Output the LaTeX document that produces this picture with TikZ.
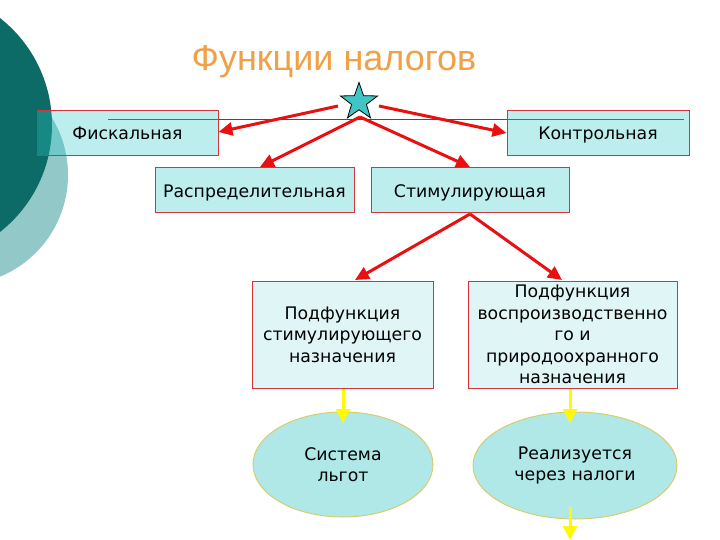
\documentclass[tikz,border=0pt]{standalone}
\usepackage{fontspec}
\setmainfont{DejaVu Sans}
\newfontfamily\titlefont{Liberation Sans}
\usetikzlibrary{arrows.meta,shapes.geometric}
\definecolor{darkteal}{RGB}{12,107,102}
\definecolor{lightteal}{RGB}{147,200,200}
\definecolor{boxfill}{RGB}{47,201,201}
\definecolor{subfill}{RGB}{224,246,246}
\definecolor{ellfill}{RGB}{176,232,232}
\definecolor{ellborder}{RGB}{214,206,110}
\definecolor{boxborder}{RGB}{214,52,60}
\definecolor{arrred}{RGB}{232,16,16}
\definecolor{arryel}{RGB}{255,250,0}
\definecolor{titlecol}{RGB}{240,160,70}
\definecolor{startcol}{RGB}{64,196,196}
\begin{document}
\begin{tikzpicture}[x=1pt,y=-1pt,
  fbox/.style={draw=boxborder,line width=1pt,fill=boxfill,fill opacity=0.32,text opacity=1,
     inner sep=0pt,font=\fontsize{17.3}{21}\selectfont,text=black,text height=16pt,text depth=3pt},
  subbox/.style={draw=boxborder,line width=1pt,fill=subfill,inner sep=0pt,align=center,
     font=\fontsize{17.3}{21.5}\selectfont},
  ell/.style={ellipse,draw=ellborder,line width=1pt,fill=ellfill,inner sep=0pt,align=center,
     font=\fontsize{17.3}{21.5}\selectfont},
  redarr/.style={draw=arrred,line width=3pt,-{Triangle[length=14pt,width=13pt]}},
  yelarr/.style={draw=arryel,line width=3pt,-{Triangle[length=14pt,width=14pt]}}]
\useasboundingbox (0,0) rectangle (720,540);
\clip (0,0) rectangle (720,540);
% background circles
\fill[lightteal] (-42,175) circle (110pt);
\fill[darkteal] (-84,125) circle (136pt);
% title
\node[font=\titlefont\fontsize{36}{40}\selectfont,text=titlecol] (title) at (334,62) {Функции налогов};
% horizontal line
\coordinate (hl1) at (108,120);
\coordinate (hl2) at (684,120);
\draw[gray!60!black,line width=1pt] (hl1) -- (hl2);
% boxes
\node[fbox,minimum width=181pt,minimum height=45pt] (fisk) at (127.5,133.5) {Фискальная};
\node[fbox,minimum width=182pt,minimum height=45pt] (kontr) at (598,133.5) {Контрольная};
\node[fbox,minimum width=199pt,minimum height=45pt] (raspr) at (254.5,190.5) {Распределительная};
\node[fbox,minimum width=198pt,minimum height=45pt] (stim) at (470,190.5) {Стимулирующая};
\node[subbox,minimum width=181pt,minimum height=107pt] (sub1) at (342.5,334.5)
  {Подфункция\\стимулирующего\\назначения};
\node[subbox,minimum width=209pt,minimum height=107pt] (sub2) at (572.5,334.5)
  {Подфункция\\воспроизводственно\\го и\\природоохранного\\назначения};
\node[ell,minimum width=180pt,minimum height=105pt] (e1) at (343,464.5) {Система\\льгот};
\node[ell,minimum width=204pt,minimum height=107pt] (e2) at (575,465.5) {Реализуется\\через налоги};
% star
\node[star,star points=5,star point ratio=2.5,minimum size=39pt,inner sep=0pt,
  draw=black,line width=0.8pt,fill=startcol] (star) at (359,102) {};
% red arrows
\coordinate (sl) at (338,106);
\coordinate (sr) at (379,106);
\draw[redarr] (sl) -- (fisk.east |- 0,132);
\draw[redarr] (sr) -- (kontr.west |- 0,133);
\coordinate (sb) at (360,117);
\draw[redarr] (sb) -- (260,167);
\draw[redarr] (sb) -- (470,167);
\coordinate (stb) at (470,214);
\draw[redarr] (stb) -- (355,280);
\draw[redarr] (stb) -- (562,280);
% yellow arrows
\draw[yelarr] (sub1.south -| 343,0) -- (343,423);
\draw[yelarr] (sub2.south -| 570,0) -- (570,423);
\coordinate (bot) at (570,540);
\draw[yelarr] (570,507) -- (bot);
\end{tikzpicture}
\end{document}
